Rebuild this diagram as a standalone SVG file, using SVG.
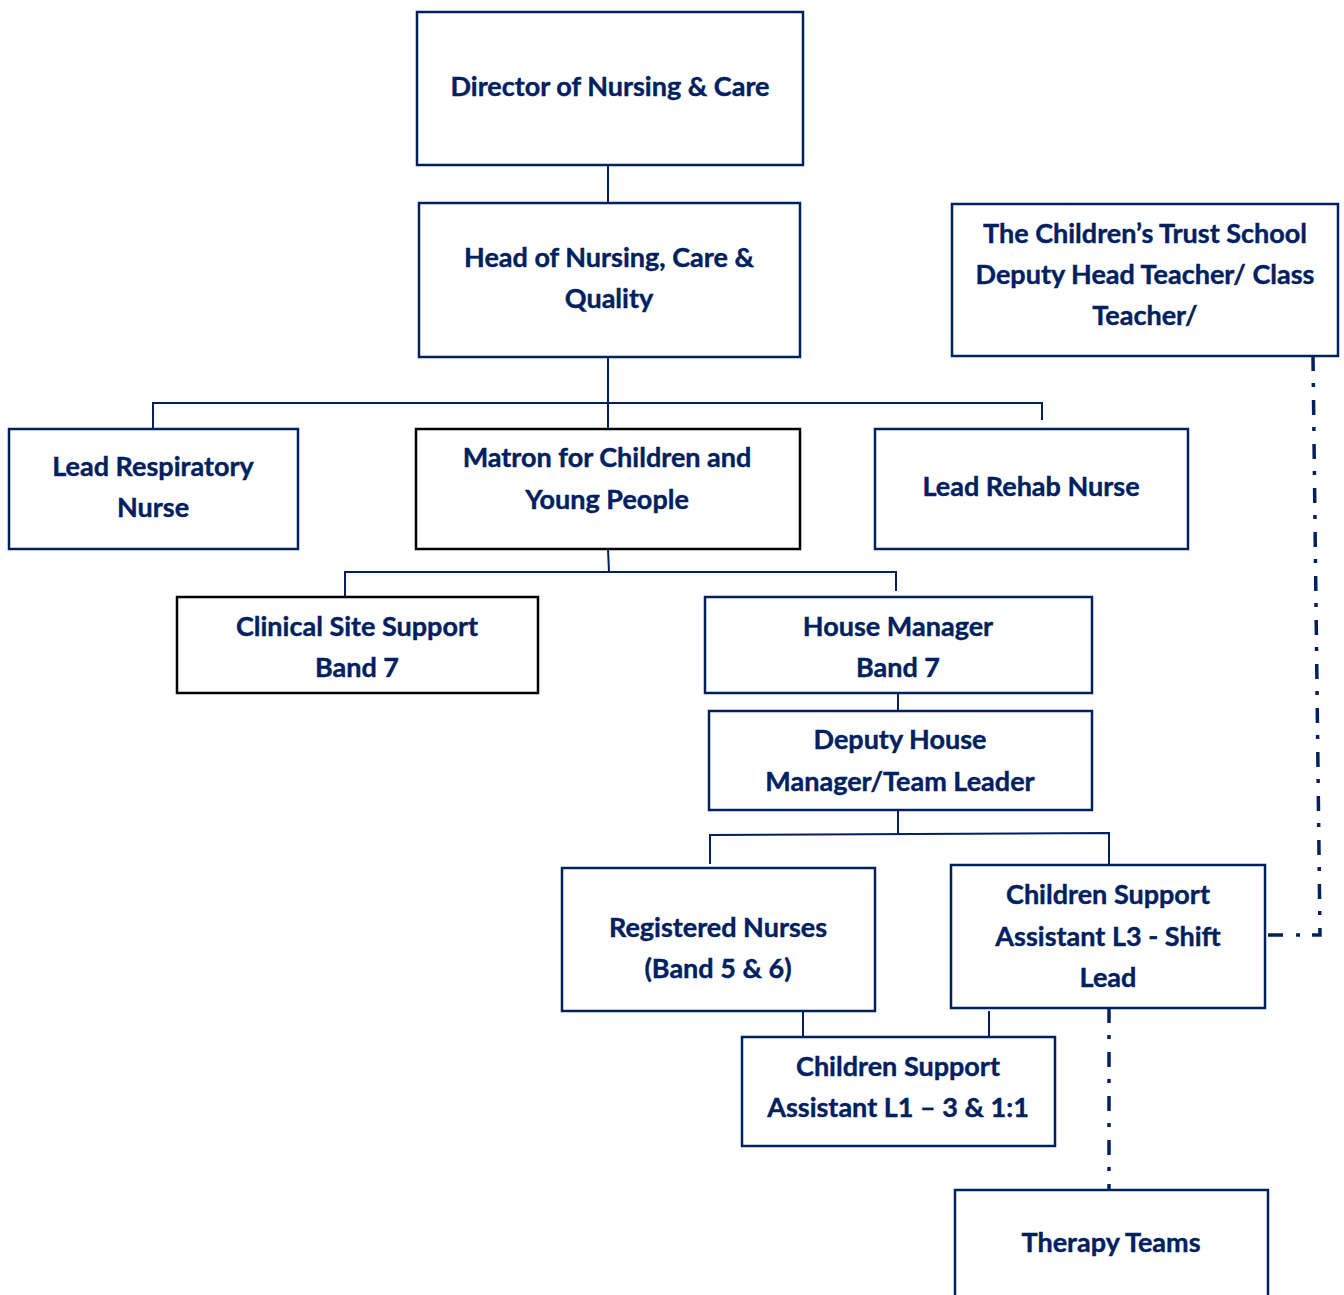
<svg xmlns="http://www.w3.org/2000/svg" width="1344" height="1295" viewBox="0 0 1344 1295">
<style>
.box{fill:#fff;stroke:#002060;stroke-width:2.5}
.blk{fill:#fff;stroke:#000;stroke-width:2.5}
text{font-family:Lato,"Open Sans","Liberation Sans",sans-serif;font-weight:bold;font-size:27px;fill:#002060;text-anchor:middle;stroke:#002060;stroke-width:0.4}
.ln{fill:none;stroke:#002060;stroke-width:2}
.dd{fill:none;stroke:#002060;stroke-width:3.5;stroke-dasharray:15 12 4 13}
</style>
<rect width="1344" height="1295" fill="#fff"/>
<g id="connectors">
<path class="ln" d="M608 158V203"/>
<path class="ln" d="M608 357V428M153 428V403H1042V420"/>
<path class="ln" d="M608 549L609 572M345 597V572H896V591"/>
<path class="ln" d="M898 693V717"/>
<path class="ln" d="M898 810V834M710 864V835L1109 833V865"/>
<path class="ln" d="M803 1009V1037M989 1011V1037"/>
<path class="dd" d="M1109 1008V1190"/>
<path class="dd" d="M1313 356L1320 935H1265"/>
</g>
<g id="director"><rect class="box" x="417" y="12" width="386" height="153"/><text x="610" y="96">Director of Nursing &amp; Care</text></g>
<g id="head"><rect class="box" x="419" y="203" width="381" height="154"/><text x="609" y="267">Head of Nursing, Care &amp;</text><text x="609" y="308">Quality</text></g>
<g id="school"><rect class="box" x="952" y="204" width="386" height="152"/><text x="1145" y="243">The Children’s Trust School</text><text x="1145" y="284">Deputy Head Teacher/ Class</text><text x="1145" y="325">Teacher/</text></g>
<g id="respiratory"><rect class="box" x="9" y="429" width="289" height="120"/><text x="153" y="476">Lead Respiratory</text><text x="153" y="517">Nurse</text></g>
<g id="matron"><rect class="blk" x="416" y="429" width="384" height="120"/><text x="607" y="467">Matron for Children and</text><text x="607" y="509">Young People</text></g>
<g id="rehab"><rect class="box" x="875" y="429" width="313" height="120"/><text x="1031" y="496">Lead Rehab Nurse</text></g>
<g id="clinical"><rect class="blk" x="177" y="597" width="361" height="96"/><text x="357" y="636">Clinical Site Support</text><text x="357" y="677">Band 7</text></g>
<g id="house"><rect class="box" x="705" y="597" width="387" height="96"/><text x="898" y="636">House Manager</text><text x="898" y="677">Band 7</text></g>
<g id="deputy"><rect class="box" x="709" y="711" width="383" height="99"/><text x="900" y="749">Deputy House</text><text x="900" y="791">Manager/Team Leader</text></g>
<g id="registered"><rect class="box" x="562" y="868" width="313" height="143"/><text x="718" y="937">Registered Nurses</text><text x="718" y="978">(Band 5 &amp; 6)</text></g>
<g id="csa3"><rect class="box" x="951" y="865" width="314" height="143"/><text x="1108" y="904">Children Support</text><text x="1108" y="946">Assistant L3 - Shift</text><text x="1108" y="987">Lead</text></g>
<g id="csa1"><rect class="box" x="742" y="1037" width="313" height="109"/><text x="898" y="1076">Children Support</text><text x="898" y="1117">Assistant L1 – 3 &amp; 1:1</text></g>
<g id="therapy"><rect class="box" x="955" y="1190" width="313" height="130"/><text x="1111" y="1252">Therapy Teams</text></g>
</svg>
